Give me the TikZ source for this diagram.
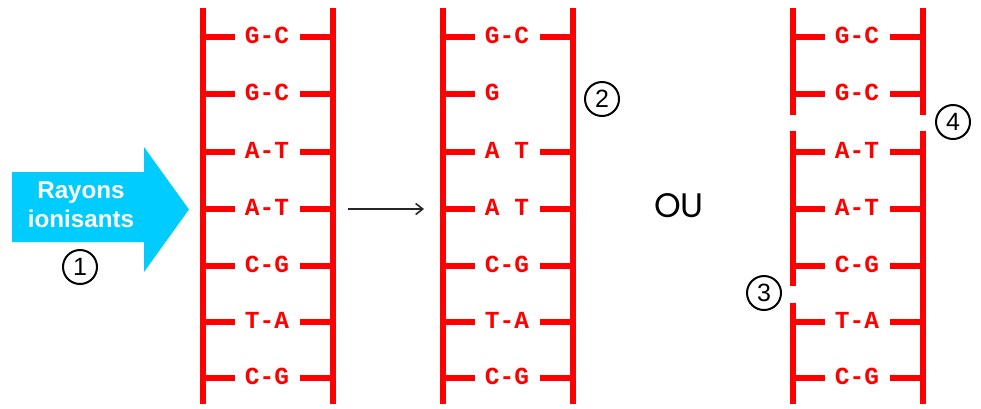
\documentclass[tikz,border=0pt]{standalone}
\usepackage{fontspec}
\setmainfont{Liberation Sans}
\newfontfamily\monof{Liberation Mono}
\newfontfamily\popf{Poppins}
\usetikzlibrary{arrows.meta}
\definecolor{dnared}{RGB}{255,0,0}
\definecolor{raycyan}{RGB}{0,204,255}
\begin{document}
\begin{tikzpicture}[x=1pt,y=-1pt,
  rail/.style={draw=dnared,line width=5.5pt},
  rung/.style={draw=dnared,line width=6pt},
  base/.style={text=dnared,font=\monof\bfseries\fontsize{24.5}{24.5}\selectfont,inner sep=0pt,text height=13pt,text depth=0pt},
  num/.style={circle,draw=black,line width=2pt,minimum size=34pt,inner sep=0pt,font=\fontsize{25}{25}\selectfont},
  raylabel/.style={text=white,font=\bfseries\fontsize{24.2}{24.2}\selectfont,inner sep=0pt,anchor=base}]
\useasboundingbox (0,0) rectangle (981,408);
% ionising rays arrow
\fill[raycyan] (12,172) -- (144,172) -- (144,147) -- (189,209.5) -- (144,272) -- (144,242) -- (12,242) -- cycle;
\node[raylabel] (ray1) at (81,198) {Rayons};
\node[raylabel] (ray2) at (81,227) {ionisants};
\node[num] (n1) at (80,267) {1};
% ladder 1
\draw[rail] (203,8) -- (203,404);
\draw[rail] (333,8) -- (333,404);
\foreach \y/\t [count=\i] in {37/G-C,94/G-C,152/A-T,209/A-T,266/C-G,322/T-A,378/C-G}{
  \node[base] (a\i) at (267,\y) {\t};
  \draw[rung] (203,\y) -- (235,\y);
  \draw[rung] (300,\y) -- (333,\y);
}
% transition arrow
\coordinate (s) at (348,209);
\coordinate (e) at (424,209);
\draw[line width=1.6pt,black!85,-{Straight Barb[length=7pt,width=11pt]}] (s) -- (e);
% ladder 2
\draw[rail] (443,8) -- (443,404);
\draw[rail] (573,8) -- (573,404);
\foreach \y/\t [count=\i] in {37/G-C,152/A T,209/A T,266/C-G,322/T-A,378/C-G}{
  \node[base] (b\i) at (507,\y) {\t};
  \draw[rung] (443,\y) -- (475,\y);
  \draw[rung] (540,\y) -- (573,\y);
}
\node[base] (bg) at (507,94) {G\phantom{-C}};
\draw[rung] (443,94) -- (475,94);
\node[num] (n2) at (602,99) {2};
% OU
\node[font=\popf\fontsize{34}{34}\selectfont,inner sep=0pt] (ou) at (679,206) {OU};
% ladder 3
\draw[rail] (793,8) -- (793,115);
\draw[rail] (793,131) -- (793,286);
\draw[rail] (793,303) -- (793,404);
\draw[rail] (923,8) -- (923,115);
\draw[rail] (923,131) -- (923,404);
\foreach \y/\t [count=\i] in {37/G-C,94/G-C,152/A-T,209/A-T,266/C-G,322/T-A,378/C-G}{
  \node[base] (c\i) at (857,\y) {\t};
  \draw[rung] (793,\y) -- (825,\y);
  \draw[rung] (890,\y) -- (923,\y);
}
\node[num] (n3) at (764,293) {3};
\node[num] (n4) at (953,122) {4};
\end{tikzpicture}
\end{document}
